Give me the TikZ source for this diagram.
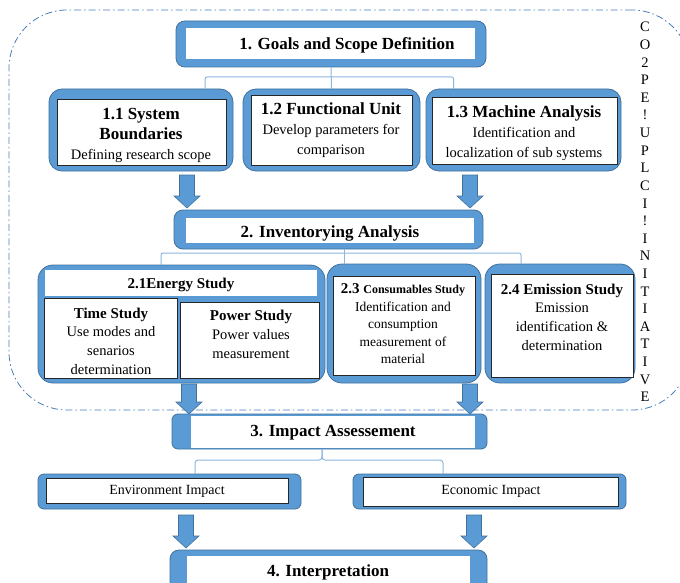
\documentclass[tikz,border=0pt]{standalone}
\usepackage{fontspec}
\setmainfont{Liberation Serif}
\usetikzlibrary{calc}
\definecolor{bblue}{HTML}{5B9BD5}
\definecolor{bborder}{HTML}{41719C}
\definecolor{lblue}{HTML}{8DB6DF}
\definecolor{dblue}{HTML}{4A7EBB}
\newcommand\rbox[6]{\node[#2, minimum width={#5-#3}, minimum height={#6-#4}] (#1) at ({(#3+#5)/2},{(#4+#6)/2}) {};}
\newcommand\barrow[3]{\draw[blockarr] ({#1-7.5},#2) -- ({#1+7.5},#2) -- ({#1+7.5},{#3-12}) -- ({#1+13},{#3-12}) -- (#1,#3) -- ({#1-13},{#3-12}) -- ({#1-7.5},{#3-12}) -- cycle;}
\newcommand\mytitle[1]{{\fontsize{17}{20}\selectfont\bfseries #1}}
\newcommand\mysub[1]{{\fontsize{15}{18}\selectfont\bfseries #1}}
\begin{document}
\begin{tikzpicture}[x=1pt,y=-1pt,
  obox/.style={fill=bblue, draw=bborder, line width=0.8pt, rounded corners=#1, inner sep=0pt, outer sep=0pt},
  obox/.default=8pt,
  ibox/.style={fill=white, draw=black!85, line width=0.9pt, inner sep=0pt, outer sep=0pt},
  wbox/.style={fill=white, draw=none, inner sep=0pt, outer sep=0pt},
  framebox/.style={draw=dblue, line width=0.8pt, dash pattern=on 7pt off 3pt on 1.5pt off 3pt, rounded corners=58pt, inner sep=0pt, outer sep=0pt},
  txt/.style={align=center, inner sep=0pt, font=\fontsize{14.5}{20}\selectfont},
  brk/.style={draw=lblue, line width=1pt},
  blockarr/.style={fill=bblue, draw=bborder, line width=0.6pt},
  sidech/.style={inner sep=0pt, anchor=base, font=\fontsize{14.5}{16}\selectfont}
]
\useasboundingbox (0,0) rectangle (680,583);
\fill[white] (0,0) rectangle (680,583);
\clip (0,0) rectangle (680,583);

% dashed frame
\rbox{frame}{framebox}{9}{10}{690}{410}

% 1. Goals
\rbox{b1}{obox=9pt}{176}{21}{486}{67}
\rbox{b1i}{wbox}{186}{28}{475}{59}
\node[txt] (t1) at (347,45) {\mytitle{1. Goals and Scope Definition}};

% 1.x boxes
\rbox{b11}{obox=13pt}{49}{89}{233}{171}
\rbox{b11i}{ibox}{57}{99}{226}{165}
\node[txt] (t11) at (141,135) {\mytitle{1.1 System}\\\mytitle{Boundaries}\\Defining research scope};

\rbox{b12}{obox=13pt}{243}{89}{420}{171}
\rbox{b12i}{ibox}{251}{95}{412}{165}
\node[txt] (t12) at (331,130) {\mytitle{1.2 Functional Unit}\\Develop parameters for\\comparison};

\rbox{b13}{obox=13pt}{426}{89}{621}{171}
\rbox{b13i}{ibox}{432}{97}{617}{164}
\node[txt] (t13) at (524,133) {\mytitle{1.3 Machine Analysis}\\Identification and\\localization of sub systems};

% bracket 1
\draw[brk] (b1.south) -- (b12.north);
\draw[brk, rounded corners=2pt] ([xshift=64pt]b11.north) -- ++(0,-12) -| ([xshift=-70pt]b13.north);

% arrows row 1 -> 2
\barrow{187}{175}{208}
\barrow{470}{175}{208}

% 2. Inventorying
\rbox{b2}{obox=9pt}{174}{210}{483}{249}
\rbox{b2i}{wbox}{186}{218}{474}{243}
\node[txt] (t2) at (330,233) {\mytitle{2. Inventorying Analysis}};

% 2.1 energy
\rbox{b21}{obox=15pt}{38}{265}{325}{383}
\rbox{b21h}{wbox}{45}{270}{317}{296}
\node[txt] (t21) at (181,285) {\mysub{2.1Energy Study}};
\rbox{btime}{ibox}{44}{298}{177}{378}
\node[txt, font=\fontsize{14.5}{18.7}\selectfont] (ttime) at (111,341) {\mysub{Time Study}\\Use modes and\\senarios\\determination};
\rbox{bpow}{ibox}{180}{302}{319}{378}
\node[txt, font=\fontsize{14.5}{19}\selectfont] (tpow) at (251,334) {\mysub{Power Study}\\Power values\\measurement};

% 2.3 consumables
\rbox{b23}{obox=15pt}{327}{264}{481}{383}
\rbox{b23i}{ibox}{333}{276}{475}{375}
\node[txt, font=\fontsize{13.5}{17.5}\selectfont] (t23) at (403,324) {{\fontsize{15}{17.5}\selectfont\bfseries 2.3 {\fontsize{12}{17.5}\selectfont Consumables Study}}\\Identification and\\consumption\\measurement of\\material};

% 2.4 emission
\rbox{b24}{obox=15pt}{485}{264}{635}{383}
\rbox{b24i}{ibox}{491}{274}{633}{377}
\node[txt, font=\fontsize{14.5}{18.7}\selectfont] (t24) at (562,317) {\mysub{2.4 Emission Study}\\Emission\\identification \&\\determination};

% bracket 2
\coordinate (k2) at (344,0);
\draw[brk] (b2.south -| k2) -- (b23.north -| k2);
\draw[brk, rounded corners=2pt] ([xshift=-20.5pt]b21.north) -- ++(0,-12) -| ([xshift=-39pt]b24.north);

% arrows row 2 -> 3
\barrow{189}{384}{414}
\barrow{470}{384}{414}

% 3. Impact
\rbox{b3}{obox=6pt}{172}{414}{487}{449}
\rbox{b3i}{wbox}{191}{415.5}{475}{447.5}
\node[txt] (t3) at (333,433) {\mytitle{3. Impact Assessement}};

\rbox{benv}{obox=6pt}{38}{474}{301}{509}
\rbox{benvi}{ibox}{46}{478}{288}{503}
\node[txt, font=\fontsize{14}{16}\selectfont] (tenv) at (167,491) {Environment Impact};

\rbox{beco}{obox=6pt}{353}{474}{626}{509}
\rbox{becoi}{ibox}{363}{477}{618}{506}
\node[txt, font=\fontsize{14}{16}\selectfont] (teco) at (491,491) {Economic Impact};

% bracket 3 (brace)
\coordinate (n3) at (322,460);
\draw[brk, rounded corners=3pt] ([xshift=25.5pt]benv.north) |- (n3) -- ([xshift=-7.5pt]b3.south);
\draw[brk, rounded corners=3pt] ([xshift=-46.5pt]beco.north) |- (n3) -- ([xshift=-7.5pt]b3.south);

% arrows row 3 -> 4
\barrow{186}{515}{548}
\barrow{474}{515}{548}

% 4. Interpretation
\rbox{b4}{obox=9pt}{170}{550}{487}{604}
\rbox{b4i}{wbox}{187}{556}{470}{604}
\node[txt] (t4) at (328,572) {\mytitle{4. Interpretation}};

% side text
\foreach \ch [count=\i] in {C,O,2,P,E,!,U,P,L,C,I,!,I,N,I,T,I,A,T,I,V,E}
  \node[sidech] (s\i) at (645,{27+17.6*(\i-1)+5}) {\ch};
\end{tikzpicture}
\end{document}
